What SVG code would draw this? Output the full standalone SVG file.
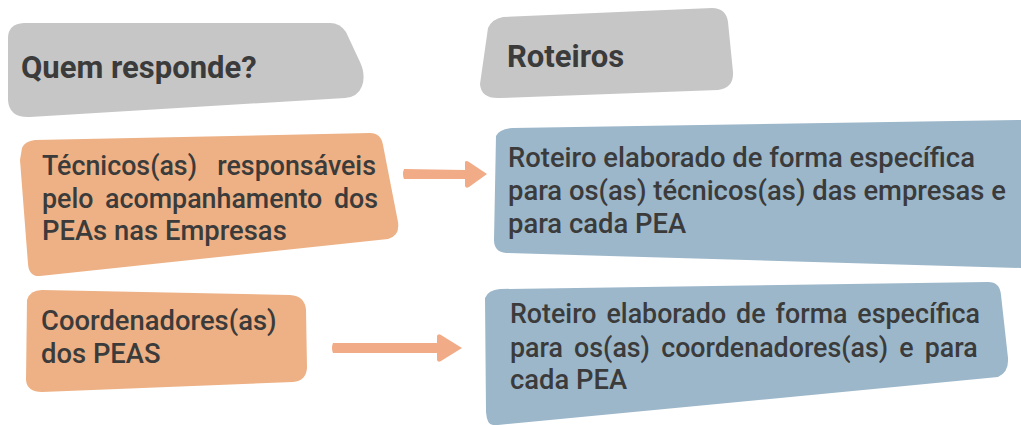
<svg xmlns="http://www.w3.org/2000/svg" width="1021" height="425" viewBox="0 0 1021 425">
<style>
.t{font-family:Roboto,"Liberation Sans",sans-serif;fill:#3b3b3b}
.h{font-size:31px;font-weight:700}
.b{font-size:27.4px;font-weight:500}
.s{font-size:26.8px}
.gray{fill:#c6c6c6}
.org{fill:#edb185}
.blue{fill:#9cb7ca}
.arr{fill:#f2ab87}
</style>
<rect width="1021" height="425" fill="#ffffff"/>
<g id="head-quem">
<path class="gray" d="M8,38 Q8,24 24,23 L330,23 Q340,23 346,32 L360,62 Q366,75 362,86 Q358,97 345,98 L30,117 Q9,118 8,100 Z"/>
<text class="t h" x="21" y="78">Quem responde?</text>
</g>
<g id="head-roteiros">
<path class="gray" d="M488,28 Q492,19 503,17 L712,8 Q726,8 728,22 L733,72 Q734,88 718,90 L500,98 Q481,99 480,84 Z"/>
<text class="t h" x="507" y="67">Roteiros</text>
</g>
<g id="node-tecnicos">
<path class="org" d="M22,148 Q25,141 35,140 L370,133 Q381,133 383,145 L398,222 Q400,236 388,239 L40,276 Q29,277 28,264 L20,160 Z"/>
<text class="t b s" y="175"><tspan x="42">Técnicos(as)</tspan><tspan x="376" text-anchor="end">responsáveis</tspan></text>
<text class="t b s" x="42" y="208" word-spacing="5">pelo acompanhamento dos</text>
<text class="t b" x="42" y="240">PEAs nas Empresas</text>
</g>
<g id="node-coord">
<path class="org" d="M27,300 Q30,290 42,290 L290,295 Q305,296 306,310 L307,368 Q306,381 293,382 L42,392 Q27,392 26,380 Z"/>
<text class="t b" x="41" y="330">Coordenadores(as)</text>
<text class="t b" x="41" y="363">dos PEAS</text>
</g>
<g id="node-roteiro-tec">
<path class="blue" d="M496,136 Q499,129 512,128 L1021,120 L1021,268 L506,253 Q494,252 494,240 Z"/>
<text class="t b" x="508" y="167">Roteiro elaborado de forma específica</text>
<text class="t b" x="508" y="200">para os(as) técnicos(as) das empresas e</text>
<text class="t b" x="508" y="233">para cada PEA</text>
</g>
<g id="node-roteiro-coord">
<path class="blue" d="M485,298 Q488,290 500,289 L988,282 Q1000,282 1001,295 L1008,358 Q1009,372 998,377 L498,425 L493,425 Q487,425 486,412 Z"/>
<text class="t b s" x="510" y="323" word-spacing="3.3">Roteiro elaborado de forma específica</text>
<text class="t b s" x="510" y="357" word-spacing="4.5">para os(as) coordenadores(as) e para</text>
<text class="t b" x="510" y="389">cada PEA</text>
</g>
<g id="connectors">
<path class="arr" d="M404,169 L465,170 L465,162 Q466,160 469,162 L487,174 L469,187 Q466,189 465,186 L465,179 L404,179 Q402,174 404,169 Z"/>
<path class="arr" d="M333,343 L437,343 L437,336 Q438,333 441,335 L462,348 L441,361 Q438,363 437,360 L437,353 L333,353 Q331,348 333,343 Z"/>
</g>
</svg>
